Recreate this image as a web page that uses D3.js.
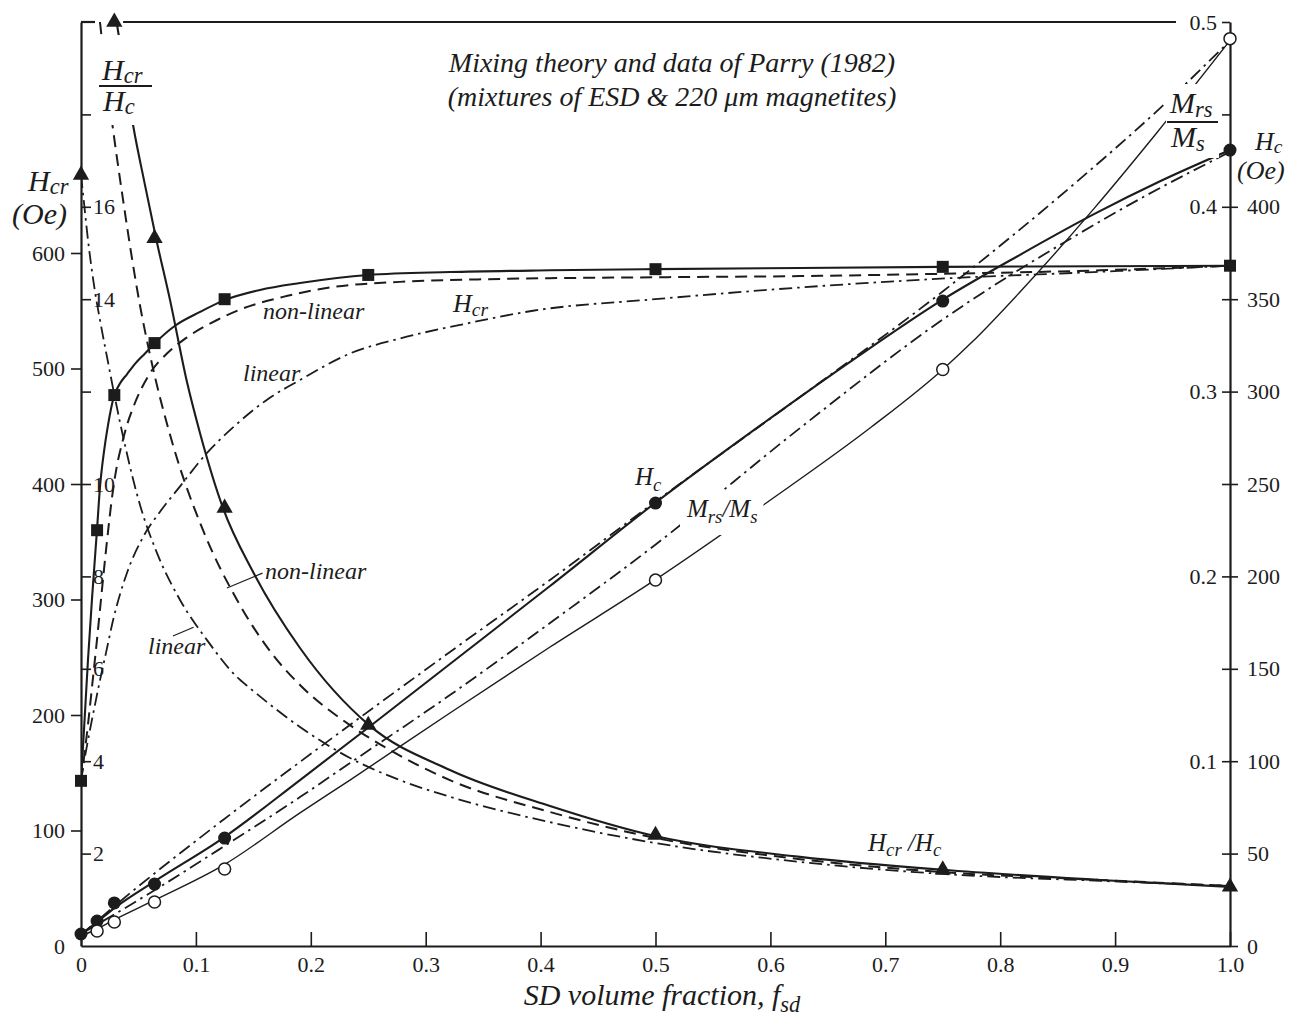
<!DOCTYPE html>
<html>
<head>
<meta charset="utf-8">
<script src="https://cdn.jsdelivr.net/npm/d3@7"></script>
<style>
  body { margin: 0; background: #fff; }
  svg { display: block; }
</style>
</head>
<body>
<svg id="chart" width="1295" height="1017"></svg>
<script>
// ---- tick values and labels ----
const fracTicks = [0, 0.1, 0.2, 0.3, 0.4, 0.5, 0.6, 0.7, 0.8, 0.9, 1.0];
const hcrTicks = [0, 100, 200, 300, 400, 500, 600];
const ratioTicks = [2, 4, 6, 8, 10, 12, 14, 16, 18];
const ratioTickLabels = ["2", "4", "6", "8", "10", "", "14", "16", ""];
const hcTicks = [0, 50, 100, 150, 200, 250, 300, 350, 400];
const mrsTicks = [0.05, 0.1, 0.15, 0.2, 0.25, 0.3, 0.35, 0.4, 0.45, 0.5];
const mrsTickLabels = ["", "0.1", "", "0.2", "", "0.3", "", "0.4", "", "0.5"];

// ---- measured mixtures (Parry 1982): SD volume fraction and properties ----
const hcrMeasured = [[0, 143], [0.014, 360], [0.029, 477], [0.064, 522], [0.125, 560],
                     [0.25, 581], [0.5, 586], [0.75, 588], [1.0, 589]];
const ratioMeasured = [[0, 16.69], [0.029, 20.0], [0.064, 15.32], [0.125, 9.48],
                       [0.25, 4.78], [0.5, 2.40], [0.75, 1.65], [1.0, 1.28]];
const hcMeasured = [[0, 6.5], [0.014, 13.5], [0.029, 23.3], [0.064, 33.5], [0.125, 58.4],
                    [0.5, 239.7], [0.75, 349.0], [1.0, 430.7]];
const mrsMeasured = [[0.014, 0.0081], [0.029, 0.013], [0.064, 0.0238], [0.125, 0.0417],
                     [0.5, 0.198], [0.75, 0.312], [1.0, 0.491]];

// ---- curves drawn through the measurements ----
const hcrFit = [[0, 143], [0.0026, 187], [0.0061, 248], [0.0096, 301], [0.0139, 360], [0.0165, 397],
  [0.0200, 428], [0.0235, 451], [0.0287, 476], [0.0339, 487], [0.0400, 495], [0.0470, 504],
  [0.0557, 513], [0.0644, 522], [0.0818, 537], [0.1036, 549], [0.1245, 559], [0.1558, 568],
  [0.1906, 574], [0.2498, 581], [0.3211, 583.5], [0.4082, 585], [0.4996, 586], [0.6258, 587],
  [0.7493, 588], [0.8869, 588.5], [1.0, 589]];
const ratioFit = [[0.031, 20.0], [0.0383, 18.85], [0.0453, 17.77], [0.0557, 16.47], [0.0653, 15.32],
  [0.0775, 13.98], [0.0923, 12.2], [0.1036, 11.1], [0.1236, 9.48], [0.1497, 8.1], [0.1906, 6.45],
  [0.2507, 4.78], [0.3211, 3.81], [0.4082, 3.03], [0.4996, 2.38], [0.6258, 1.93], [0.7493, 1.65],
  [0.8869, 1.43], [1.0, 1.28]];
const hcFit = [[0, 6.5], [0.014, 13.0], [0.029, 20.5], [0.064, 35.0], [0.1236, 58.4], [0.1906, 89.8],
  [0.2507, 118.5], [0.3211, 152.6], [0.4082, 194.8], [0.4996, 239.7], [0.5919, 282.0],
  [0.6728, 317.6], [0.7493, 349.5], [0.8172, 374.0], [0.8816, 396.0], [0.9391, 413.8], [1.0, 430.7]];
const mrsFit = [[0, 0.0054], [0.0139, 0.0092], [0.0287, 0.0141], [0.0644, 0.0249], [0.1236, 0.0436],
  [0.1906, 0.0720], [0.2341, 0.0898], [0.3211, 0.1261], [0.4082, 0.1618], [0.4996, 0.1981],
  [0.5979, 0.2404], [0.6884, 0.2811], [0.7493, 0.3116], [0.7755, 0.3268], [0.8172, 0.3539],
  [0.8816, 0.3990], [0.9365, 0.4402], [1.0, 0.4900]];

// ---- mixing theory: non-linear (dashed) and linear (dash-dot) ----
const hcrNonLinear = [[0, 143], [0.0035, 170], [0.0070, 200], [0.0104, 232], [0.0139, 265],
  [0.0174, 300], [0.0218, 343], [0.0279, 395], [0.0313, 416], [0.0357, 435], [0.0400, 451],
  [0.0453, 466], [0.0601, 496], [0.0748, 513], [0.0923, 527], [0.1184, 542], [0.1384, 551],
  [0.1758, 562], [0.2193, 570.5], [0.2776, 575], [0.3647, 577.5], [0.4996, 579], [0.6258, 580],
  [0.7493, 582], [0.8869, 585], [1.0, 589]];
const hcrLinear = [[0, 143], [0.0026, 159], [0.0070, 183], [0.0122, 209], [0.0165, 230],
  [0.0218, 254], [0.0279, 282], [0.0400, 323], [0.0540, 354], [0.0688, 376], [0.0862, 398],
  [0.1097, 427], [0.1323, 449], [0.1619, 473], [0.1906, 490], [0.2341, 513], [0.2776, 526],
  [0.3359, 539], [0.3934, 550], [0.4996, 560], [0.6240, 570], [0.7528, 578], [0.8816, 583.5],
  [1.0, 589]];
const ratioNonLinear = [[0.0165, 20.0], [0.0200, 19.22], [0.0270, 17.84], [0.0366, 16.15],
  [0.0513, 13.87], [0.0601, 12.79], [0.0801, 10.84], [0.1062, 9.00], [0.1358, 7.49],
  [0.1671, 6.30], [0.1906, 5.65], [0.2341, 4.78], [0.2689, 4.24], [0.3211, 3.59], [0.4082, 2.90],
  [0.4996, 2.34], [0.6258, 1.88], [0.7493, 1.60], [0.8869, 1.43], [1.0, 1.30]];
const ratioLinear = [[0, 16.69], [0.0017, 16.30], [0.0061, 15.28], [0.0122, 14.16], [0.0165, 13.55],
  [0.0235, 12.64], [0.0296, 11.86], [0.0383, 10.84], [0.0513, 9.55], [0.0661, 8.51],
  [0.0862, 7.49], [0.1097, 6.62], [0.1358, 5.82], [0.1471, 5.58], [0.1906, 4.74], [0.2341, 4.07],
  [0.2776, 3.59], [0.3211, 3.23], [0.4082, 2.68], [0.4996, 2.23], [0.6258, 1.82], [0.7493, 1.56],
  [0.8869, 1.41], [1.0, 1.30]];
const hcTheory = [[0, 6.5], [0.0601, 28.7], [0.1236, 53.6], [0.1906, 80.6], [0.2341, 99.0],
  [0.3211, 135.8], [0.4082, 174.8], [0.4996, 217.0], [0.6258, 280.3], [0.7493, 338.7],
  [0.8695, 385.8], [0.9278, 406.4], [1.0, 429.7]];
const mrsTheory = [[0, 0.0060], [0.0252, 0.0195], [0.1236, 0.0682], [0.1906, 0.0996],
  [0.3211, 0.1591], [0.4082, 0.1981], [0.4996, 0.2403], [0.6258, 0.2971], [0.7502, 0.3543],
  [0.8695, 0.4151], [0.9399, 0.4538], [1.0, 0.4899]];

// ---- pick the first installed Times-like face ----
function hasFont(name) {
  const ctx = document.createElement("canvas").getContext("2d");
  const probe = "Mixing theory 0123456789 WQgwl";
  return ["monospace", "sans-serif", "cursive"].some(base => {
    ctx.font = `40px ${base}`;
    const w0 = ctx.measureText(probe).width;
    ctx.font = `40px "${name}", ${base}`;
    return Math.abs(ctx.measureText(probe).width - w0) > 0.5;
  });
}
const serifFace = ["Liberation Serif", "Times New Roman", "Tinos", "Nimbus Roman", "FreeSerif",
  "DejaVu Serif", "Noto Serif", "Georgia"].find(hasFont);
const SERIF = serifFace ? `"${serifFace}", serif` : "serif";

// ---- layout ----
const ink = "#1c1c1c";
const svg = d3.select("#chart").attr("font-family", SERIF);
const x = d3.scaleLinear().domain([0, 1]).range([81, 1230]);
const yHcr = d3.scaleLinear().domain([0, 800]).range([946, 22]);
const yRatio = d3.scaleLinear().domain([0, 20]).range([946, 22]);
const yHc = d3.scaleLinear().domain([0, 500]).range([946, 22]);
const yMrs = d3.scaleLinear().domain([0, 0.5]).range([946, 22]);

svg.append("defs").append("clipPath").attr("id", "plotClip").append("rect")
  .attr("x", x(0)).attr("y", yHc(500) - 1)
  .attr("width", x(1) - x(0)).attr("height", yHc(0) - yHc(500) + 1);

function styleAxis(g, size) {
  g.attr("font-family", SERIF).attr("font-size", null);
  g.selectAll("path.domain").attr("stroke", ink).attr("stroke-width", 2.2);
  g.selectAll(".tick line").attr("stroke", ink).attr("stroke-width", 1.6);
  g.selectAll(".tick text").attr("fill", ink).attr("font-size", size).attr("font-family", SERIF);
}

// left: H_cr (Oe), ticks outside
const gHcr = svg.append("g").attr("transform", `translate(${x(0)},0)`)
  .call(d3.axisLeft(yHcr).tickValues(hcrTicks).tickSize(10).tickPadding(6).tickSizeOuter(0));
styleAxis(gHcr, 22);
gHcr.selectAll(".tick").filter(d => d === 0).select("line").remove();

// left, inner: H_cr/H_c
const gRatio = svg.append("g").attr("transform", `translate(${x(0)},0)`)
  .call(d3.axisRight(yRatio).tickValues(ratioTicks).tickSize(10).tickPadding(2)
    .tickFormat((d, i) => ratioTickLabels[i]));
gRatio.select(".domain").remove();
styleAxis(gRatio, 22);

// right, inner: M_rs/M_s
const gMrs = svg.append("g").attr("transform", `translate(${x(1)},0)`)
  .call(d3.axisLeft(yMrs).tickValues(mrsTicks).tickSize(8).tickPadding(5).tickSizeOuter(0)
    .tickFormat((d, i) => mrsTickLabels[i]));
styleAxis(gMrs, 22);

// right, outer: H_c (Oe)
const gHc = svg.append("g").attr("transform", `translate(${x(1)},0)`)
  .call(d3.axisRight(yHc).tickValues(hcTicks).tickSize(8).tickPadding(9));
gHc.select(".domain").remove();
styleAxis(gHc, 22);

// bottom: SD volume fraction, ticks pointing inward
const gX = svg.append("g").attr("transform", `translate(0,${yHc(0)})`)
  .call(d3.axisBottom(x).tickValues(fracTicks).tickSize(-14).tickPadding(10).tickSizeOuter(0)
    .tickFormat(d => d === 0 ? "0" : d.toFixed(1)));
styleAxis(gX, 22);

// top frame, open where the H_cr/H_c curves leave the plot and at the 0.5 label
[[0, 0.0122], [0.0366, 0.953]].forEach(([a, b]) => {
  svg.append("line").attr("x1", x(a)).attr("x2", x(b))
    .attr("y1", yHc(500)).attr("y2", yHc(500))
    .attr("stroke", ink).attr("stroke-width", 2.2);
});

// ---- curves ----
const curveLayer = svg.append("g").attr("clip-path", "url(#plotClip)")
  .attr("fill", "none").attr("stroke", ink).attr("stroke-linecap", "butt");
const SOLID = { w: 2.1 }, THIN = { w: 1.4 };
const DASHED = { w: 2.0, dash: "12,7" }, DASHDOT = { w: 1.8, dash: "13,5,2.5,5" };
function drawCurve(data, yScale, style) {
  curveLayer.append("path").datum(data)
    .attr("d", d3.line().x(d => x(d[0])).y(d => yScale(d[1])).curve(d3.curveMonotoneX))
    .attr("stroke-width", style.w)
    .attr("stroke-dasharray", style.dash || null);
}
drawCurve(hcrLinear, yHcr, DASHDOT);
drawCurve(hcrNonLinear, yHcr, DASHED);
drawCurve(hcrFit, yHcr, SOLID);
drawCurve(ratioLinear, yRatio, DASHDOT);
drawCurve(ratioNonLinear, yRatio, DASHED);
drawCurve(ratioFit, yRatio, SOLID);
drawCurve(mrsTheory, yMrs, DASHDOT);
drawCurve(hcTheory, yHc, DASHDOT);
drawCurve(hcFit, yHc, SOLID);
drawCurve(mrsFit, yMrs, THIN);

// ---- text helpers ----
function richText(parent, x0, y0, parts, size, drop, anchor) {
  const t = parent.append("text").attr("x", x0).attr("y", y0)
    .attr("font-family", SERIF)
    .attr("font-size", size).attr("font-style", "italic").attr("fill", ink)
    .attr("text-anchor", anchor || "start");
  let cur = 0;
  parts.forEach(p => {
    const sub = p.startsWith("_");
    const want = sub ? drop : 0;
    const ts = t.append("tspan").text(sub ? p.slice(1) : p);
    if (want !== cur) { ts.attr("dy", want - cur); cur = want; }
    if (sub) ts.attr("font-size", size * 0.75);
  });
  return t;
}
function whiteBehind(g, padX, padTop, padBottom) {
  const b = g.node().getBBox();
  g.insert("rect", ":first-child")
    .attr("x", b.x - padX).attr("y", b.y - padTop)
    .attr("width", b.width + 2 * padX).attr("height", b.height + padTop + padBottom)
    .attr("fill", "#fff");
}
function fraction(x0, yNum, yBar, yDen, barW, size, num, den, drop) {
  const g = svg.append("g");
  richText(g, x0, yNum, num, size, drop);
  g.append("line").attr("x1", x0 - 3).attr("x2", x0 - 3 + barW)
    .attr("y1", yBar).attr("y2", yBar).attr("stroke", ink).attr("stroke-width", 1.8);
  richText(g, x0 + 1, yDen, den, size, drop);
  return g;
}

// fraction labels at the curve ends
whiteBehind(fraction(102, 80, 86, 111, 53, 30, ["H", "_cr"], ["H", "_c"], 3), 3, 18, 6);
whiteBehind(fraction(1170, 113, 122, 147, 51, 30, ["M", "_rs"], ["M", "_s"], 4), 1, 2, 2);

// curve annotations
const notes = svg.append("g");
richText(notes, 263, 319, ["non-linear"], 24, 0);
richText(notes, 453, 312, ["H", "_cr"], 26, 4);
richText(notes, 243, 381, ["linear"], 24, 0);
richText(notes, 265, 579, ["non-linear"], 24, 0);
richText(notes, 148, 654, ["linear"], 24, 0);
richText(notes, 635, 485, ["H", "_c"], 25, 6);
richText(notes, 868, 851, ["H", "_cr", " /H", "_c"], 25, 5);
const mrsNote = svg.append("g");
richText(mrsNote, 687, 517, ["M", "_rs", "/M", "_s"], 25, 6);
whiteBehind(mrsNote, 6, 4, 8);

// leader lines from labels to the H_cr/H_c theory curves
const leaders = [[[0.127, 7.75], [0.158, 8.07]], [[0.080, 6.71], [0.098, 6.90]]];
leaders.forEach(([a, b]) => {
  svg.append("line").attr("x1", x(a[0])).attr("y1", yRatio(a[1]))
    .attr("x2", x(b[0])).attr("y2", yRatio(b[1]))
    .attr("stroke", ink).attr("stroke-width", 1.2);
});

// axis titles
richText(svg, 28, 191, ["H", "_cr"], 30, 3);
richText(svg, 12, 224, ["(Oe)"], 30, 0);
richText(svg, 1255, 150, ["H", "_c"], 26, 3);
richText(svg, 1237, 179, ["(Oe)"], 26, 0);
richText(svg, 662, 1005, ["SD volume fraction, f", "_sd"], 30, 7, "middle");

// title
richText(svg, 672, 72, ["Mixing theory and data of Parry (1982)"], 28, 0, "middle");
richText(svg, 672, 106, ["(mixtures of ESD & 220 μm magnetites)"], 28, 0, "middle");

// ---- markers ----
const marks = svg.append("g").attr("fill", ink);
marks.selectAll("path.sq").data(hcrMeasured).join("path").attr("class", "sq")
  .attr("d", d3.symbol(d3.symbolSquare, 144))
  .attr("transform", d => `translate(${x(d[0])},${yHcr(d[1])})`);
marks.selectAll("path.tri").data(ratioMeasured).join("path").attr("class", "tri")
  .attr("d", d3.symbol(d3.symbolTriangle, 115))
  .attr("transform", d => `translate(${x(d[0])},${yRatio(d[1])})`);
marks.selectAll("circle.hc").data(hcMeasured).join("circle").attr("class", "hc")
  .attr("cx", d => x(d[0])).attr("cy", d => yHc(d[1])).attr("r", 6.5);
marks.selectAll("circle.mrs").data(mrsMeasured).join("circle").attr("class", "mrs")
  .attr("cx", d => x(d[0])).attr("cy", d => yMrs(d[1])).attr("r", 6)
  .attr("fill", "#fff").attr("stroke", ink).attr("stroke-width", 1.5);
</script>
</body>
</html>
